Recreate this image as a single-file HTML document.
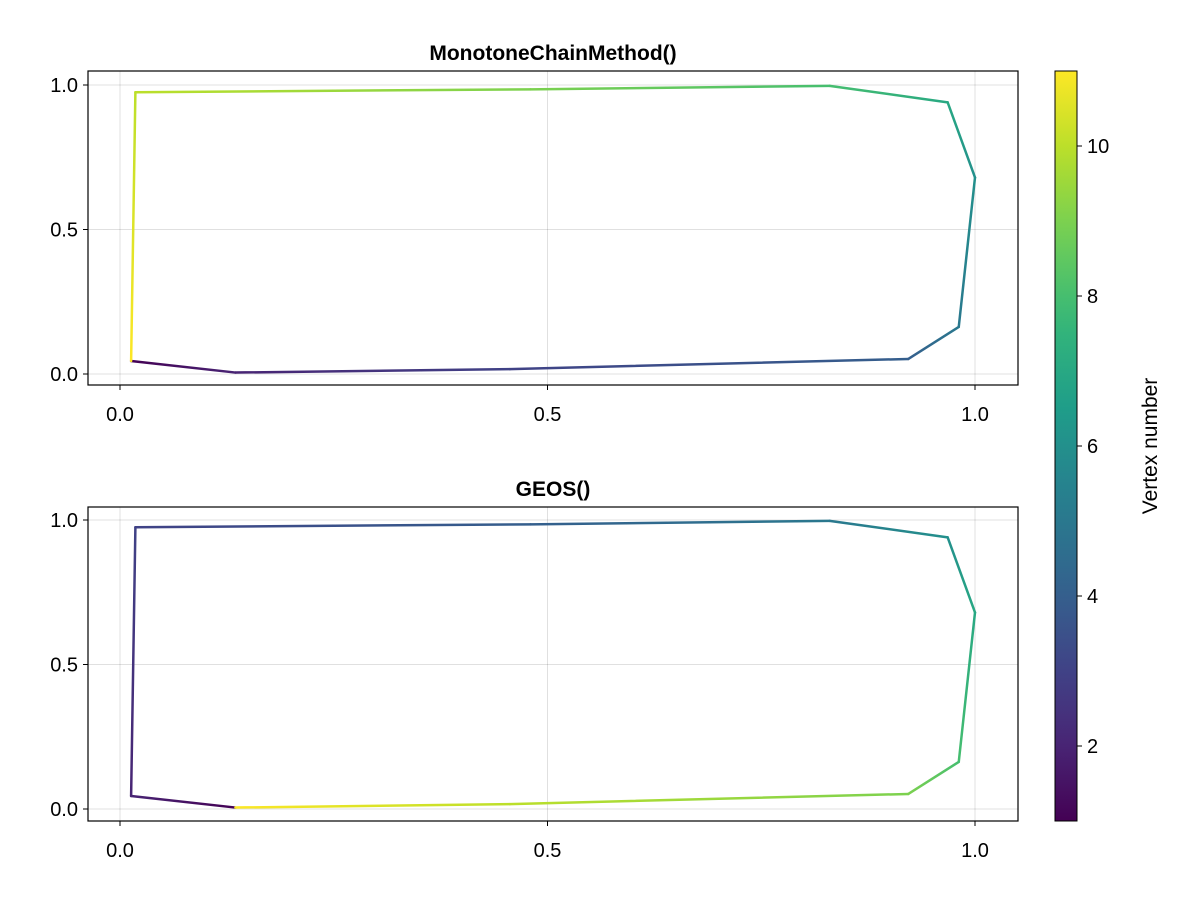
<!DOCTYPE html>
<html><head><meta charset="utf-8"><style>
body{margin:0;background:#fff;}
svg text{font-family:"Liberation Sans",Arial,sans-serif;fill:#000;}
</style></head><body>
<svg id="chart" width="1200" height="900" viewBox="0 0 1200 900">
<defs id="defs"></defs>
</svg>
<script>
const xTicks=[0.0,0.5,1.0];
const yTicks=[0.0,0.5,1.0];
const cbTicks=[2,4,6,8,10];
const mcX=[0.013,0.135,0.456,0.922,0.981,1.0,0.968,0.830,0.48,0.018,0.013];
const mcY=[0.045,0.005,0.017,0.052,0.163,0.68,0.94,0.997,0.985,0.975,0.045];
const geosX=[0.135,0.013,0.018,0.48,0.830,0.968,1.0,0.981,0.922,0.456,0.135];
const geosY=[0.005,0.045,0.975,0.985,0.997,0.94,0.68,0.163,0.052,0.017,0.005];
const titles=["MonotoneChainMethod()","GEOS()"];
const NS="http://www.w3.org/2000/svg";
const svg=document.getElementById('chart');const defs=document.getElementById('defs');
function mk(t,a,p){const e=document.createElementNS(NS,t);for(const k in a)e.setAttribute(k,a[k]);(p||svg).appendChild(e);return e;}
const vir=[[68,1,84],[72,40,120],[62,73,137],[49,104,142],[38,130,142],[31,158,137],[53,183,121],[110,206,88],[181,222,43],[253,231,37]];
function viridis(t){t=Math.max(0,Math.min(1,t));const f=t*(vir.length-1);const i=Math.min(vir.length-2,Math.floor(f));const r=f-i;const c=vir[i].map((v,k)=>Math.round(v+(vir[i+1][k]-v)*r));return `rgb(${c[0]},${c[1]},${c[2]})`;}
const cmin=1,cmax=11;
const X0=88,X1=1018;
function sx(v){return 120+v*855;}
const panels=[{top:71,bot:385,y0:374,y1:85,xs:mcX,ys:mcY},{top:507,bot:821,y0:809,y1:520,xs:geosX,ys:geosY}];
let gid=0;
panels.forEach((p,pi)=>{
  const sy=v=>p.y0+(p.y1-p.y0)*v;
  const g=mk('g',{});
  
  
  xTicks.forEach(t=>{const l=mk('line',{x1:sx(t),x2:sx(t),y1:p.top,y2:p.bot,stroke:'#000','stroke-opacity':0.12,'stroke-width':1},g);
    
    const tx=mk('text',{x:sx(t),y:p.bot+36,'text-anchor':'middle','font-size':20},g);tx.textContent=t.toFixed(1);
    
    mk('line',{x1:sx(t),x2:sx(t),y1:p.bot,y2:p.bot+5,stroke:'#000'},g);});
  yTicks.forEach(t=>{const l=mk('line',{x1:X0,x2:X1,y1:sy(t),y2:sy(t),stroke:'#000','stroke-opacity':0.12,'stroke-width':1},g);
    
    const tx=mk('text',{x:X0-10,y:sy(t)+7,'text-anchor':'end','font-size':20},g);tx.textContent=t.toFixed(1);
    
    mk('line',{x1:X0-5,x2:X0,y1:sy(t),y2:sy(t),stroke:'#000'},g);});
  const n=p.xs.length;
  for(let i=0;i<n-1;i++){
    const id='g'+(gid++);const x1=sx(p.xs[i]),y1=sy(p.ys[i]),x2=sx(p.xs[i+1]),y2=sy(p.ys[i+1]);
    const lg=mk('linearGradient',{id:id,gradientUnits:'userSpaceOnUse',x1:x1,y1:y1,x2:x2,y2:y2},defs);
    mk('stop',{offset:0,'stop-color':viridis((i+1-cmin)/(cmax-cmin))},lg);
    mk('stop',{offset:1,'stop-color':viridis((i+2-cmin)/(cmax-cmin))},lg);
    const s=mk('line',{x1:x1,y1:y1,x2:x2,y2:y2,stroke:`url(#${id})`,'stroke-width':2.5,'stroke-linecap':'round'},g);
    
  }
  const b=mk('rect',{x:X0,y:p.top,width:X1-X0,height:p.bot-p.top,fill:'none',stroke:'#000','stroke-width':1.2},g);
  
  const tt=mk('text',{x:553,y:p.top-11,'text-anchor':'middle','font-size':21,'font-weight':'bold'},g);tt.textContent=titles[pi];
  
});
const cbG=mk('linearGradient',{id:'cbg',x1:0,y1:1,x2:0,y2:0},defs);
for(let i=0;i<=20;i++)mk('stop',{offset:i/20,'stop-color':viridis(i/20)},cbG);
const cb=mk('rect',{x:1055,y:71,width:22,height:750,fill:'url(#cbg)',stroke:'#000','stroke-width':1});

const cy=v=>821-(v-cmin)/(cmax-cmin)*750;
cbTicks.forEach(t=>{mk('line',{x1:1077,x2:1082,y1:cy(t),y2:cy(t),stroke:'#000'});
  const tx=mk('text',{x:1087,y:cy(t)+7,'font-size':20});tx.textContent=t;
  });
const ct=mk('text',{x:0,y:0,'font-size':21,'text-anchor':'middle',transform:'translate(1157,446) rotate(-90)'});ct.textContent='Vertex number';

</script>
</body></html>
